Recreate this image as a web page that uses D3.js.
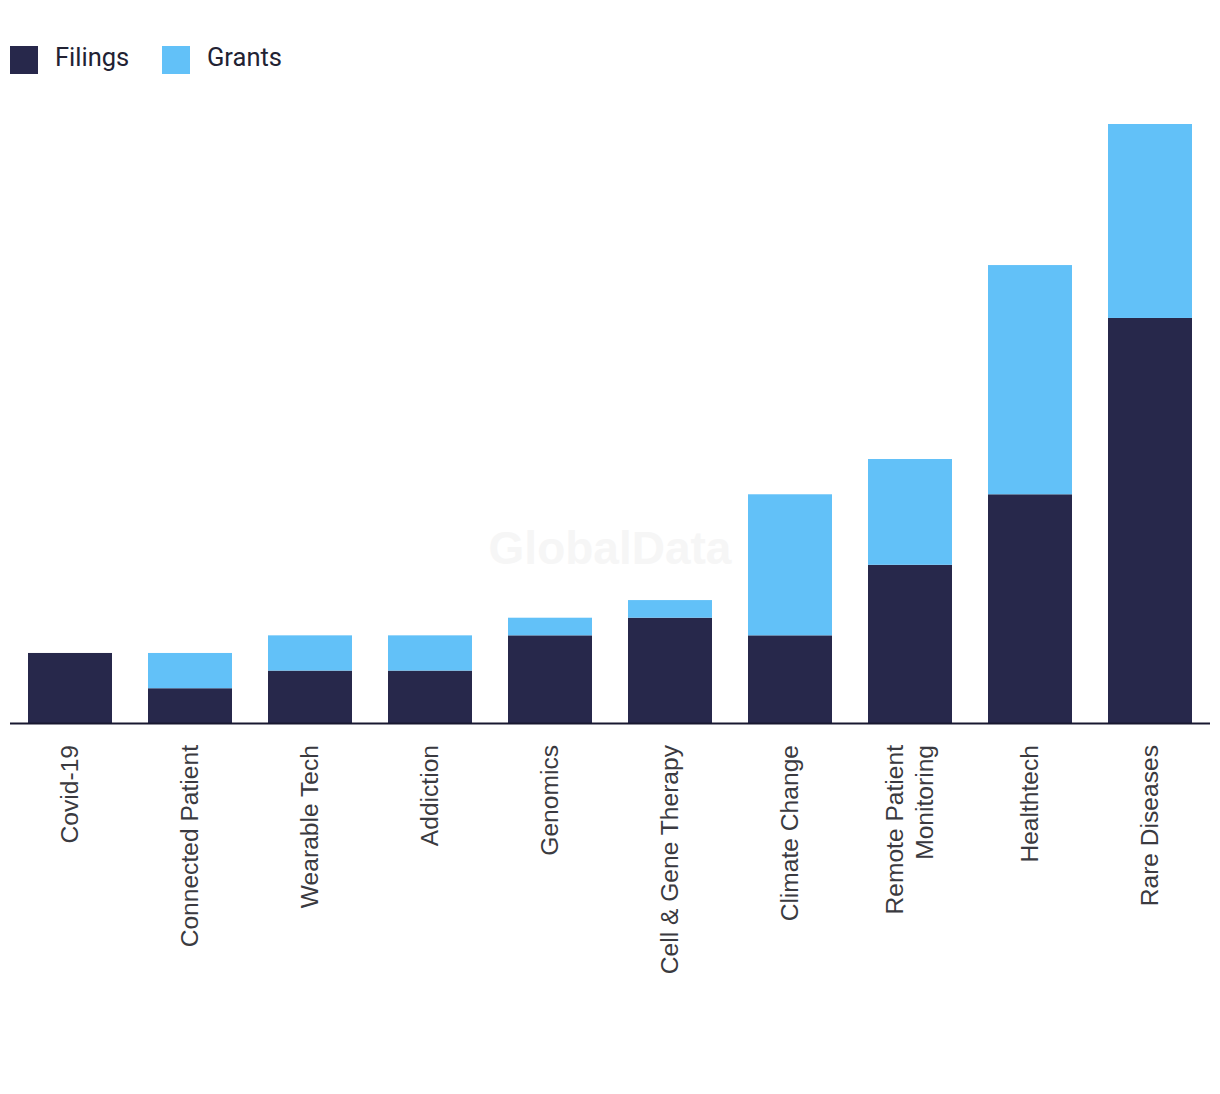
<!DOCTYPE html>
<html><head><meta charset="utf-8">
<script src="https://cdn.jsdelivr.net/npm/d3@7"></script>
<style>body{margin:0;background:#fff}svg{display:block}</style>
</head><body>
<script>
const categories = ["Covid-19","Connected Patient","Wearable Tech","Addiction","Genomics","Cell & Gene Therapy","Climate Change","Remote Patient Monitoring","Healthtech","Rare Diseases"];
const labelLines = [["Covid-19"],["Connected Patient"],["Wearable Tech"],["Addiction"],["Genomics"],["Cell & Gene Therapy"],["Climate Change"],["Remote Patient","Monitoring"],["Healthtech"],["Rare Diseases"]];
const filings = [4,2,3,3,5,6,5,9,13,23];
const grants = [0,2,2,2,1,1,8,6,13,11];
const seriesNames = ["Filings","Grants"];
const colors = ["#27284b","#62c1f8"];

const W=1220,H=1094;
const svg=d3.select("body").append("svg").attr("width",W).attr("height",H);
const labelFont="'Liberation Sans', Arial, sans-serif";
const legendFont="Roboto, 'Open Sans', sans-serif";
const x=d3.scaleBand().domain(categories).range([10,1210]).paddingInner(0.3).paddingOuter(0.15);
const y=d3.scaleLinear().domain([0,34]).range([723.5,124]);

svg.append("text").attr("x",610).attr("y",564).attr("text-anchor","middle")
  .attr("font-family","'Liberation Sans', Arial, sans-serif").attr("font-weight","bold").attr("font-size",46)
  .attr("fill","#f6f6f6").text("GlobalData");

const data=categories.map((c,i)=>({cat:c,Filings:filings[i],Grants:grants[i]}));
const stack=d3.stack().keys(seriesNames)(data);
svg.append("g").selectAll("g").data(stack).join("g").attr("fill",(d,i)=>colors[i])
 .selectAll("rect").data(d=>d).join("rect")
 .attr("x",d=>x(d.data.cat)).attr("width",x.bandwidth())
 .attr("y",d=>y(d[1])).attr("height",d=>y(d[0])-y(d[1]));

svg.append("line").attr("x1",10).attr("x2",1210).attr("y1",723.5).attr("y2",723.5).attr("stroke","#181830").attr("stroke-width",2);

svg.append("g").selectAll("g").data(categories.map((c,i)=>({c,lines:labelLines[i]}))).join("g")
 .attr("transform",d=>`translate(${x(d.c)+x.bandwidth()/2},745) rotate(-90)`)
 .each(function(d){
   const g=d3.select(this);
   const n=d.lines.length;
   d.lines.forEach((l,j)=>{
     g.append("text").attr("x",0).attr("y",(j-(n-1)/2)*30+8).attr("text-anchor","end")
      .attr("font-family",labelFont).attr("font-size",24.6).attr("fill","#3a3a40").text(l);
   });
 });

const legendX=[10,162];
seriesNames.forEach((s,i)=>{
  svg.append("rect").attr("x",legendX[i]).attr("y",46).attr("width",28).attr("height",28).attr("fill",colors[i]);
  svg.append("text").attr("x",legendX[i]+45).attr("y",66).attr("font-family",legendFont).attr("font-size",25.5)
   .attr("fill","#222233").text(s);
});
</script>
</body></html>
